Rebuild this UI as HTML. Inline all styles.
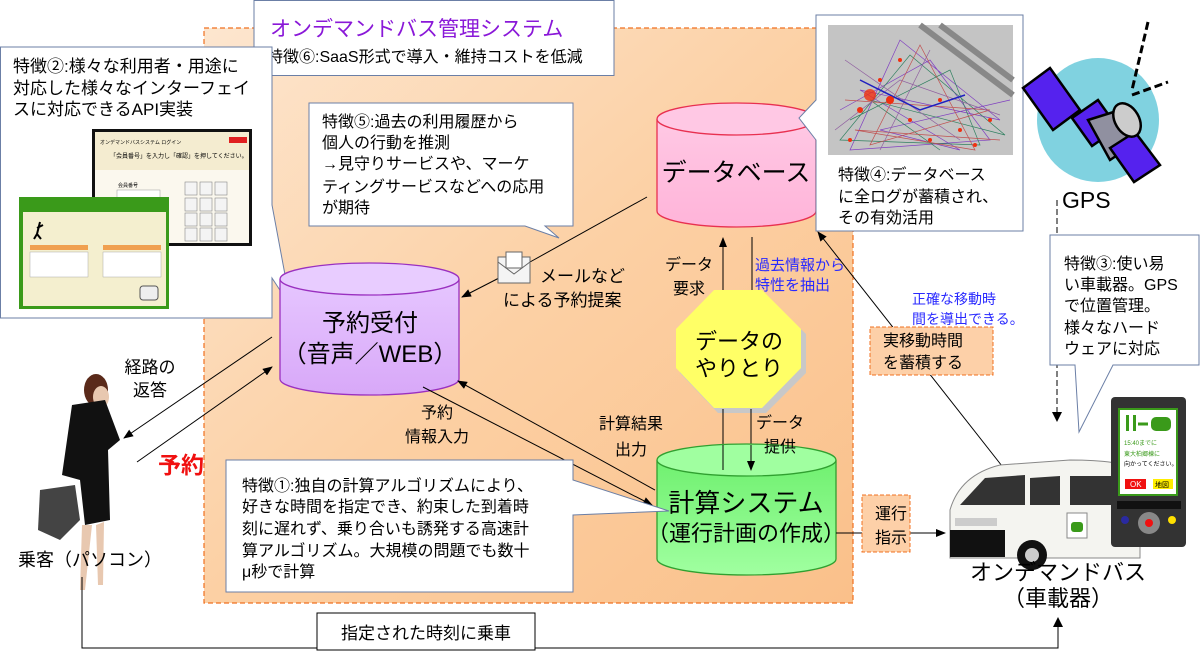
<!DOCTYPE html>
<html><head><meta charset="utf-8"><style>
html,body{margin:0;padding:0;background:#fff}
svg{display:block}
text{font-family:"Liberation Sans","Noto Sans CJK JP",sans-serif;fill:#000}
</style></head><body>
<svg width="1201" height="654" viewBox="0 0 1201 654" xmlns="http://www.w3.org/2000/svg">
<defs>
<linearGradient id="og" x1="0" y1="0" x2="1" y2="1">
<stop offset="0" stop-color="#fde6cf"/><stop offset="0.5" stop-color="#fcd0a4"/><stop offset="1" stop-color="#fac08a"/></linearGradient>
<linearGradient id="pg" x1="0" y1="0" x2="0" y2="1"><stop offset="0" stop-color="#ffc8e4"/><stop offset="1" stop-color="#ffb4d9"/></linearGradient>
<linearGradient id="vg" x1="0" y1="0" x2="0" y2="1"><stop offset="0" stop-color="#e6c6ff"/><stop offset="1" stop-color="#d8a8f8"/></linearGradient>
<linearGradient id="gg" x1="0" y1="0" x2="0" y2="1"><stop offset="0" stop-color="#70f070"/><stop offset="1" stop-color="#a0ffa0"/></linearGradient>
<marker id="ah" markerWidth="10" markerHeight="8" refX="9" refY="4" orient="auto" markerUnits="userSpaceOnUse"><path d="M0,0 L10,4 L0,8 z" fill="#000"/></marker>
</defs>

<rect x="204" y="28" width="649" height="575" fill="url(#og)" stroke="#f07020" stroke-width="1.2" stroke-dasharray="5,3"/>

<rect x="254" y="0.5" width="360" height="75" fill="#fff" stroke="#6b7fa6"/>
<text x="270" y="36" font-size="21" style="fill:#8a18d8">オンデマンドバス管理システム</text>
<text x="267" y="62" font-size="16">特徴⑥:SaaS形式で導入・維持コストを低減</text>

<path d="M0.5,47 H272 V205 L291,307 L272,278 V318 H0.5 Z" fill="#fff" stroke="#6b7fa6"/>
<text font-size="17"><tspan x="13" y="72">特徴②:様々な利用者・用途に</tspan><tspan x="13" y="94">対応した様々なインターフェイ</tspan><tspan x="13" y="115">スに対応できるAPI実装</tspan></text>
<rect x="92" y="129" width="160" height="117" fill="#111"/>
<rect x="95" y="132" width="154" height="111" fill="#fbf8ee"/>
<rect x="95" y="132" width="154" height="38" fill="#f4ecd0"/>
<rect x="229" y="137" width="18" height="6" fill="#e02020"/>
<text x="100" y="144" font-size="5">オンデマンドバスシステム ログイン</text>
<text x="110" y="158" font-size="6">「会員番号」を入力し「確認」を押してください。</text>
<text x="118" y="187" font-size="5">会員番号</text>
<rect x="117" y="190" width="43" height="14" fill="#fff" stroke="#999" stroke-width="0.5"/>
<g fill="#f4f4f4" stroke="#888" stroke-width="0.6">
<rect x="185" y="182" width="12" height="13"/><rect x="200" y="182" width="12" height="13"/><rect x="215" y="182" width="12" height="13"/>
<rect x="185" y="198" width="12" height="13"/><rect x="200" y="198" width="12" height="13"/><rect x="215" y="198" width="12" height="13"/>
<rect x="185" y="213" width="12" height="13"/><rect x="200" y="213" width="12" height="13"/><rect x="215" y="213" width="12" height="13"/>
<rect x="185" y="228" width="12" height="13"/><rect x="200" y="228" width="12" height="13"/><rect x="215" y="228" width="12" height="13"/></g>
<rect x="19" y="197" width="150" height="112" fill="#3a9a1a"/>
<rect x="23" y="212" width="143" height="94" fill="#f4efcf"/>
<rect x="30" y="245" width="58" height="5" fill="#f0a050"/><rect x="103" y="245" width="58" height="5" fill="#f0a050"/>
<rect x="30" y="252" width="58" height="25" fill="#fff" stroke="#999" stroke-width="0.4"/><rect x="103" y="252" width="58" height="25" fill="#fff" stroke="#999" stroke-width="0.4"/>
<path d="M40,222 l-3,12 l-3,5 M37,228 l6,-3 M37,234 l4,5" stroke="#000" stroke-width="2" fill="none"/>
<rect x="140" y="286" width="18" height="14" rx="3" fill="#eee" stroke="#555"/>

<path d="M309,103 H573 V226 H545 L559,238 L525,226 H309 Z" fill="#fff" stroke="#6b7fa6"/>
<text font-size="16"><tspan x="322" y="127">特徴⑤:過去の利用履歴から</tspan><tspan x="322" y="148">個人の行動を推測</tspan><tspan x="322" y="169">→見守りサービスや、マーケ</tspan><tspan x="322" y="192">ティングサービスなどへの応用</tspan><tspan x="322" y="213">が期待</tspan></text>

<path d="M657,119 V211 A79.5,16 0 0 0 816,211 V119" fill="url(#pg)" stroke="#e83050" stroke-width="1.3"/>
<ellipse cx="736.5" cy="119" rx="79.5" ry="16" fill="#ffc8e4" stroke="#e83050" stroke-width="1.3"/>
<text x="736" y="181" font-size="25" text-anchor="middle">データベース</text>

<path d="M816,15 H1023 V231 H816 V140 L799,118 L816,100 Z" fill="#fff" stroke="#6b7fa6"/>
<rect x="828" y="25" width="185" height="130" fill="#c4c4c4"/>
<path d="M920,25 L1013,95 M940,25 L1013,80" stroke="#888" stroke-width="6"/>
<g stroke-width="0.7" fill="none">
<path d="M840,110 L930,60 L990,140 L850,150 L900,40 L1000,120 L860,90 L960,150 L880,130 L1010,100" stroke="#8040c0"/>
<path d="M850,120 L950,70 L980,145 L840,140 L910,55 L1005,135 L870,100 L940,150" stroke="#308060"/>
<path d="M845,100 L990,110 L870,145 L920,45 L975,150 L855,130 L1000,140" stroke="#c05050"/>
<path d="M835,130 L900,80 L1000,115 M845,60 L960,140 M880,150 L930,50" stroke="#9060a0"/>
<path d="M860,80 L920,110 L965,95" stroke="#2020c0" stroke-width="1.5"/>
</g>
<g fill="#f03010">
<circle cx="870" cy="95" r="6" opacity="0.8"/><circle cx="890" cy="100" r="4"/><circle cx="860" cy="110" r="3"/><circle cx="910" cy="120" r="2"/><circle cx="940" cy="100" r="2"/><circle cx="960" cy="130" r="2"/><circle cx="900" cy="60" r="2"/><circle cx="850" cy="140" r="2"/><circle cx="990" cy="120" r="2"/><circle cx="930" cy="140" r="2"/><circle cx="880" cy="80" r="2"/><circle cx="975" cy="145" r="2"/></g>
<text font-size="16"><tspan x="838" y="180">特徴④:データベース</tspan><tspan x="838" y="202">に全ログが蓄積され、</tspan><tspan x="838" y="223">その有効活用</tspan></text>

<ellipse cx="1098" cy="120" rx="61" ry="62" fill="#80d2e0"/>
<path d="M1148,22 L1132,90 M1132,95 L1168,82" stroke="#000" stroke-width="3" stroke-dasharray="8,4"/>
<g stroke="#000" stroke-width="2.5">
<polygon points="1023,88 1050,68 1080,110 1053,130" fill="#5522ee"/>
<polygon points="1072,118 1098,100 1118,128 1092,146" fill="#5522ee"/>
<polygon points="1088,120 1120,110 1140,140 1110,160" fill="#9090a0"/>
<polygon points="1110,148 1135,132 1160,165 1134,182" fill="#5522ee"/>
<ellipse cx="1127" cy="120" rx="12" ry="18" fill="#ccc" transform="rotate(-30 1127 120)"/>
</g>
<text x="1062" y="208" font-size="23">GPS</text>
<line x1="1057" y1="200" x2="1057" y2="420" stroke="#000" stroke-dasharray="6,3"/>
<path d="M1052,412 L1057,422 L1062,412 Z" fill="#000"/>

<path d="M1050,235 H1199 V365 H1113 L1079,432 L1075,365 H1050 Z" fill="#fff" stroke="#6b7fa6"/>
<text font-size="16"><tspan x="1064" y="269">特徴③:使い易</tspan><tspan x="1064" y="290">い車載器。GPS</tspan><tspan x="1064" y="311">で位置管理。</tspan><tspan x="1064" y="333">様々なハード</tspan><tspan x="1064" y="354">ウェアに対応</tspan></text>

<line x1="647" y1="197" x2="530" y2="262" stroke="#000"/>
<line x1="499" y1="278" x2="462" y2="297" stroke="#000" marker-end="url(#ah)"/>
<g stroke="#666" stroke-width="1"><rect x="498" y="257" width="32" height="26" fill="#f4f4f4"/><path d="M498,262 L514,274 L530,262" fill="none"/><path d="M506,252 H522 V268 H506 Z" fill="#fff"/></g>
<text font-size="17"><tspan x="540" y="282">メールなど</tspan><tspan x="503" y="306">による予約提案</tspan></text>

<text font-size="16" text-anchor="middle"><tspan x="689" y="270">データ</tspan><tspan x="689" y="294">要求</tspan></text>
<line x1="723" y1="303" x2="723" y2="238" stroke="#000" marker-end="url(#ah)"/>
<line x1="752" y1="237" x2="752" y2="300" stroke="#000"/>
<text font-size="15" style="fill:#2a2aff"><tspan x="755" y="270">過去情報から</tspan><tspan x="755" y="290">特性を抽出</tspan></text>

<polygon points="718,295 766,295 806,334 806,373 766,413 718,413 680,373 680,334" fill="#c8c8c8"/>
<polygon points="714,290 762,290 801,329 801,368 762,408 714,408 676,368 676,329" fill="#ffff66"/>
<text font-size="22" text-anchor="middle"><tspan x="739" y="349">データの</tspan><tspan x="739" y="376">やりとり</tspan></text>
<line x1="723" y1="409" x2="723" y2="470" stroke="#000"/>
<line x1="751" y1="409" x2="751" y2="470" stroke="#000" marker-end="url(#ah)"/>
<text font-size="16" text-anchor="middle"><tspan x="631" y="429">計算結果</tspan><tspan x="631" y="455">出力</tspan></text>

<path d="M280,279 V379 A89.5,16 0 0 0 459,379 V279" fill="url(#vg)" stroke="#9a30c0" stroke-width="1.3"/>
<ellipse cx="369.5" cy="279" rx="89.5" ry="16" fill="#e8ccff" stroke="#9a30c0" stroke-width="1.3"/>
<text font-size="24" text-anchor="middle"><tspan x="370" y="331">予約受付</tspan><tspan x="370" y="362">（音声／WEB）</tspan></text>

<line x1="423" y1="387" x2="652" y2="505" stroke="#000" marker-end="url(#ah)"/>
<line x1="655" y1="490" x2="458" y2="381" stroke="#000" marker-end="url(#ah)"/>
<text font-size="16" text-anchor="middle"><tspan x="437" y="418">予約</tspan><tspan x="437" y="442">情報入力</tspan></text>

<path d="M657,460 V559 A89.5,16 0 0 0 836,559 V460" fill="url(#gg)" stroke="#30a030" stroke-width="1.3"/>
<ellipse cx="746.5" cy="460" rx="89.5" ry="16" fill="#a0ffa0" stroke="#30a030" stroke-width="1.3"/>
<line x1="723" y1="445" x2="723" y2="470" stroke="#000"/>
<line x1="751" y1="445" x2="751" y2="470" stroke="#000" marker-end="url(#ah)"/>
<text font-size="16" text-anchor="middle"><tspan x="780" y="428">データ</tspan><tspan x="780" y="452">提供</tspan></text>
<text font-size="26" text-anchor="middle" x="746" y="512">計算システム</text>
<text font-size="22" text-anchor="middle" x="746" y="541">（運行計画の作成）</text>

<path d="M226,460 H573 V480 L669,511 L573,515 V592 H226 Z" fill="#fff" stroke="#6b7fa6"/>
<text font-size="16"><tspan x="242" y="491">特徴①:独自の計算アルゴリズムにより、</tspan><tspan x="242" y="512">好きな時間を指定でき、約束した到着時</tspan><tspan x="242" y="534">刻に遅れず、乗り合いも誘発する高速計</tspan><tspan x="242" y="556">算アルゴリズム。大規模の問題でも数十</tspan><tspan x="242" y="577">μ秒で計算</tspan></text>

<line x1="836" y1="533" x2="945" y2="533" stroke="#000" marker-end="url(#ah)"/>
<rect x="862" y="495" width="48" height="57" fill="#fdd0a8" stroke="#f07020" stroke-dasharray="4,2"/>
<text font-size="16"><tspan x="875" y="519">運行</tspan><tspan x="875" y="543">指示</tspan></text>

<line x1="1002" y1="466" x2="818" y2="232" stroke="#000" marker-end="url(#ah)"/>
<rect x="870" y="327" width="123" height="48" fill="#fdd0a8" stroke="#f07020" stroke-dasharray="4,2"/>
<text font-size="16"><tspan x="883" y="346">実移動時間</tspan><tspan x="883" y="368">を蓄積する</tspan></text>
<text font-size="14" style="fill:#2a2aff"><tspan x="912" y="304">正確な移動時</tspan><tspan x="912" y="324">間を導出できる。</tspan></text>

<path d="M950,510 Q960,475 1000,465 L1070,460 Q1120,460 1140,470 L1140,558 L950,558 Z" fill="#f4f4f0" stroke="#888"/>
<path d="M960,505 L985,478 L1025,475 L1025,505 Z" fill="#333"/>
<path d="M1030,478 L1060,476 L1060,505 L1030,505 Z" fill="#333"/>
<path d="M1070,476 L1125,476 L1125,505 L1070,505 Z" fill="#333"/>
<rect x="950" y="530" width="55" height="27" fill="#111"/>
<rect x="955" y="518" width="42" height="8" fill="#ccc"/>
<circle cx="1032" cy="555" r="15" fill="#111"/><circle cx="1032" cy="555" r="7" fill="#ccc"/>
<rect x="1067" y="513" width="20" height="25" fill="#fff" stroke="#888"/><rect x="1071" y="522" width="12" height="10" rx="3" fill="#3a9a1a"/>
<rect x="1111" y="397" width="75" height="150" rx="4" fill="#333"/>
<rect x="1119" y="409" width="58" height="86" fill="#fff" stroke="#3a9a1a" stroke-width="2"/>
<rect x="1151" y="417" width="20" height="14" rx="5" fill="#3a9a1a"/>
<path d="M1138,424 L1148,424" stroke="#3a9a1a" stroke-width="3"/>
<rect x="1126" y="415" width="3" height="16" fill="#3a9a1a"/><rect x="1133" y="415" width="3" height="16" fill="#3a9a1a"/>
<text x="1124" y="445" font-size="6" style="fill:#3a9a1a">15:40までに</text>
<text x="1124" y="456" font-size="6" style="fill:#3a9a1a">東大柏郷棟に</text>
<text x="1124" y="466" font-size="6">向かってください。</text>
<rect x="1125" y="479" width="21" height="10" fill="#f01010"/><text x="1130" y="487" font-size="8" style="fill:#fff">OK</text>
<rect x="1153" y="479" width="20" height="10" fill="#ffee00"/><text x="1155" y="487" font-size="7">地図</text>
<rect x="1117" y="501" width="64" height="8" fill="#111"/>
<circle cx="1125" cy="520" r="4" fill="#2a2aa0"/><circle cx="1149" cy="523" r="11" fill="#888"/><circle cx="1149" cy="523" r="4" fill="#f01010"/><circle cx="1172" cy="520" r="4" fill="#ffe000"/>
<text font-size="22" text-anchor="middle"><tspan x="1058" y="580">オンデマンドバス</tspan><tspan x="1058" y="606">（車載器）</tspan></text>

<g fill="#111">
<ellipse cx="96" cy="390" rx="12" ry="16" fill="#5a2a1a"/>
<ellipse cx="101" cy="397" rx="8" ry="11" fill="#e8c8b0"/>
<path d="M72,405 L105,400 L120,440 L108,450 L110,520 L85,525 L80,480 L62,475 Z"/>
<path d="M82,525 L80,590 L85,590 L92,525 Z M96,525 L98,585 L103,585 L104,522 Z" fill="#e8c8b0"/>
<path d="M40,490 L75,485 L80,520 L60,540 L38,530 Z" fill="#444"/>
</g>
<text x="18" y="566" font-size="18">乗客（パソコン）</text>
<line x1="272" y1="337" x2="124" y2="438" stroke="#000" marker-end="url(#ah)"/>
<line x1="137" y1="462" x2="272" y2="367" stroke="#000" marker-end="url(#ah)"/>
<text font-size="17" text-anchor="middle"><tspan x="150" y="373">経路の</tspan><tspan x="150" y="396">返答</tspan></text>
<text x="158" y="473" font-size="23" font-weight="bold" style="fill:#f01010">予約</text>

<polyline points="82,577 82,648 1058,648 1058,625" fill="none" stroke="#000"/>
<path d="M1053,627 L1058,617 L1063,627 Z" fill="#000"/>
<rect x="317" y="613" width="218" height="37" fill="#fff" stroke="#000"/>
<text x="426" y="639" font-size="17" text-anchor="middle">指定された時刻に乗車</text>
</svg>
</body></html>
